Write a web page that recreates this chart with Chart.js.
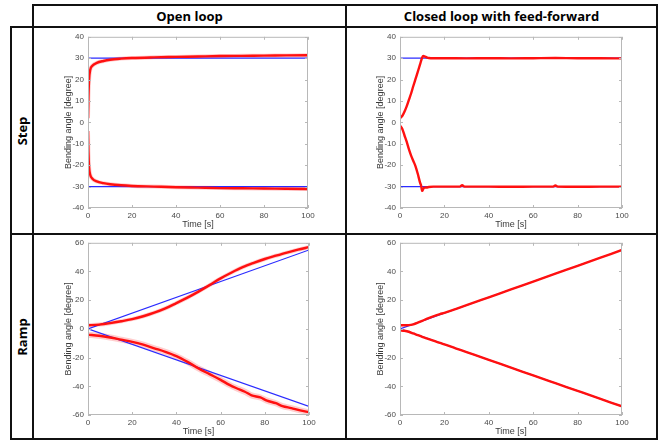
<!DOCTYPE html>
<html>
<head>
<meta charset="utf-8">
<script src="https://cdn.jsdelivr.net/npm/chart.js@4.4.1/dist/chart.umd.min.js"></script>
<style>
  body { margin: 0; background: #fff; }
  #page { position: relative; width: 662px; height: 440px; overflow: hidden; }
  .ln { position: absolute; background: #111; }
  .hd { position: absolute; font-family: "Open Sans", sans-serif; font-weight: bold; font-size: 13px; color: #000;
        display: flex; align-items: center; justify-content: center; }
  .rot { transform: rotate(-90deg); white-space: nowrap; }
  canvas { position: absolute; }
</style>
</head>
<body>
<div id="page">
  <!-- table lines -->
  <div class="ln" style="left:33px; top:4px; width:625px; height:2px;"></div>
  <div class="ln" style="left:10px; top:26px; width:648px; height:2px;"></div>
  <div class="ln" style="left:10px; top:233px; width:648px; height:2px;"></div>
  <div class="ln" style="left:10px; top:438px; width:648px; height:2px;"></div>
  <div class="ln" style="left:10px; top:26px; width:2px; height:414px;"></div>
  <div class="ln" style="left:32px; top:4px; width:2px; height:436px;"></div>
  <div class="ln" style="left:345px; top:4px; width:2px; height:436px;"></div>
  <div class="ln" style="left:656px; top:4px; width:2px; height:436px;"></div>

  <div class="hd" style="left:34px; top:6px; width:311px; height:20px;">Open loop</div>
  <div class="hd" style="left:347px; top:6px; width:309px; height:20px;">Closed loop with feed-forward</div>
  <div class="hd" style="left:12px; top:28px; width:20px; height:205px;"><span class="rot">Step</span></div>
  <div class="hd" style="left:12px; top:235px; width:20px; height:203px;"><span class="rot">Ramp</span></div>

  <canvas id="stepOpen" width="298" height="205" style="left:40px; top:28px;"></canvas>
  <canvas id="stepClosed" width="300" height="205" style="left:352px; top:28px;"></canvas>
  <canvas id="rampOpen" width="299" height="206" style="left:40px; top:234px;"></canvas>
  <canvas id="rampClosed" width="300" height="206" style="left:352px; top:234px;"></canvas>
</div>

<script>
// reference (blue)
const refTime = [0, 100];
const stepRefUp = [30, 30];
const stepRefDown = [-30, -30];
const rampRefUp = [0, 55];
const rampRefDown = [0, -54];

// open loop, step
const stepOpenTime = [0, 0.2, 0.5, 1, 2, 4, 7, 10, 15, 20, 30, 40, 50, 60, 70, 80, 90, 100];
const stepOpenUp = [2, 12, 20, 24.5, 26.5, 27.8, 28.7, 29.3, 29.8, 30.1, 30.4, 30.6, 30.8, 31, 31.1, 31.2, 31.3, 31.4];
const stepOpenDown = [-4, -14, -21, -24.5, -26.3, -27.6, -28.4, -28.9, -29.4, -29.7, -30, -30.3, -30.5, -30.7, -30.8, -30.9, -31, -31.1];

// closed loop, step
const stepClosedTimeUp = [0, 1, 2, 3, 4, 5, 6, 7, 8, 9, 10, 10.5, 11, 12, 13, 15, 20, 30, 40, 50, 60, 70, 80, 90, 100];
const stepClosedUp = [2, 3, 5, 7.5, 10.5, 13.5, 17, 20.3, 23.6, 27, 30.3, 31, 30.9, 30.4, 30.1, 30, 30, 29.9, 30, 29.9, 30, 30.1, 30, 30, 29.9];
const stepClosedTimeDown = [0, 1, 2, 3, 4, 5, 6, 7, 8, 9, 9.5, 10, 10.5, 11, 12, 13, 15, 20, 27, 28, 29, 40, 50, 60, 69, 70, 71, 80, 90, 100];
const stepClosedDown = [-1.5, -3, -6, -9, -12.5, -15.5, -18, -20.5, -24, -28, -29.5, -32, -31, -30.5, -30.4, -30.2, -30, -30, -30, -29.3, -30, -30, -30.1, -30, -30, -29.5, -30, -30.1, -30, -30];

// open loop, ramp
const rampOpenTimeUp = [0, 5, 10, 15, 20, 25, 30, 35, 40, 45, 50, 55, 60, 65, 70, 75, 80, 85, 90, 95, 100];
const rampOpenUp = [2.5, 3, 4, 5.3, 6.8, 8.8, 11.3, 14.3, 18, 21.8, 26, 30.5, 35.2, 39.3, 43, 46, 48.7, 51, 53.2, 55.2, 57];
const rampOpenTimeDown = [0, 5, 10, 15, 20, 25, 30, 35, 40, 45, 50, 55, 60, 64, 67, 71, 74, 78, 81, 85, 88, 92, 96, 100];
const rampOpenDown = [-4, -4.8, -6, -7.5, -9, -11, -13.5, -16, -19, -23, -27.5, -31.5, -35.5, -39, -41.2, -43.8, -46.3, -47.8, -50, -51.8, -53.8, -55.2, -56.8, -58];

// closed loop, ramp
const rampClosedTime = [0, 2, 4, 6, 8, 10, 12, 15, 18, 20, 25, 30, 40, 50, 60, 70, 80, 90, 100];
const rampClosedUp = [2.5, 2.5, 2.6, 3.2, 4.3, 5.6, 7, 8.8, 10.3, 11.2, 13.8, 16.5, 22, 27.5, 33, 38.5, 44, 49.5, 55];
const rampClosedDown = [-1, -1.3, -2, -3.2, -4.3, -5.5, -6.6, -8.2, -9.8, -10.8, -13.5, -16.2, -21.6, -27, -32.4, -37.8, -43.2, -48.6, -54];

const xTicks = [0, 20, 40, 60, 80, 100];

function pts(t, v) {
    return t.map((x, i) => ({ x: x, y: v[i] }));
}

// lower order = drawn on top
function blue(t, v) {
    return { data: pts(t, v), order: 2, borderColor: '#2b2bff', borderWidth: 1.2, pointRadius: 0, tension: 0 };
}
function red(t, v) {
    return { data: pts(t, v), order: 1, borderColor: '#ff1010', borderWidth: 2.4, pointRadius: 0, cubicInterpolationMode: 'monotone' };
}
function band(t, v, w) {
    return { data: pts(t, v), order: 3, borderColor: 'rgba(255,60,60,0.25)', borderWidth: w, pointRadius: 0, cubicInterpolationMode: 'monotone' };
}

// matlab style box with inward ticks
const boxTicks = {
    id: 'boxTicks',
    afterDraw(chart) {
        const { ctx, chartArea: a, scales } = chart;
        ctx.save();
        ctx.strokeStyle = '#b8b8b8';
        ctx.lineWidth = 1;
        ctx.strokeRect(a.left + 0.5, a.top + 0.5, a.right - a.left - 1, a.bottom - a.top - 1);
        ctx.beginPath();
        scales.x.ticks.forEach(tk => {
            const px = Math.round(scales.x.getPixelForValue(tk.value)) + 0.5;
            ctx.moveTo(px, a.bottom); ctx.lineTo(px, a.bottom - 3);
            ctx.moveTo(px, a.top); ctx.lineTo(px, a.top + 3);
        });
        scales.y.ticks.forEach(tk => {
            const py = Math.round(scales.y.getPixelForValue(tk.value)) + 0.5;
            ctx.moveTo(a.left, py); ctx.lineTo(a.left + 3, py);
            ctx.moveTo(a.right, py); ctx.lineTo(a.right - 3, py);
        });
        ctx.stroke();
        ctx.restore();
    }
};

function makeChart(id, datasets, yMin, yMax, yStep) {
    new Chart(document.getElementById(id), {
        type: 'line',
        data: { datasets: datasets },
        options: {
            responsive: false,
            animation: false,
            layout: { padding: { top: 7, right: 30, left: 0, bottom: 0 } },
            plugins: { legend: { display: false }, tooltip: { enabled: false } },
            scales: {
                x: {
                    type: 'linear', min: 0, max: 100,
                    afterBuildTicks: s => { s.ticks = xTicks.map(v => ({ value: v })); },
                    afterFit: s => { s.height = 25; },
                    grid: { display: false, drawTicks: false, tickLength: 0 },
                    border: { display: false },
                    ticks: { padding: 3, color: '#4a4a4a', font: { family: 'Liberation Sans', size: 8 }, maxRotation: 0 },
                    title: { display: true, text: 'Time [s]', color: '#3a3a3a', padding: { top: 0, bottom: 3 },
                             font: { family: 'Liberation Sans', size: 9 } },
                },
                y: {
                    min: yMin, max: yMax,
                    afterFit: s => { s.width = 48; },
                    grid: { display: false, drawTicks: false, tickLength: 0 },
                    border: { display: false },
                    ticks: { stepSize: yStep, padding: 4, color: '#4a4a4a', font: { family: 'Liberation Sans', size: 8 } },
                    title: { display: true, text: 'Bending angle [degree]', color: '#3a3a3a', padding: { top: 23, bottom: 0 },
                             font: { family: 'Liberation Sans', size: 9 } },
                },
            },
        },
        plugins: [boxTicks],
    });
}

makeChart('stepOpen', [
    blue(refTime, stepRefUp),
    blue(refTime, stepRefDown),
    band(stepOpenTime, stepOpenUp, 4),
    band(stepOpenTime, stepOpenDown, 4),
    red(stepOpenTime, stepOpenUp),
    red(stepOpenTime, stepOpenDown),
], -40, 40, 10);

makeChart('stepClosed', [
    blue(refTime, stepRefUp),
    blue(refTime, stepRefDown),
    red(stepClosedTimeUp, stepClosedUp),
    red(stepClosedTimeDown, stepClosedDown),
], -40, 40, 10);

makeChart('rampOpen', [
    band(rampOpenTimeUp, rampOpenUp, 4),
    band(rampOpenTimeDown, rampOpenDown, 6),
    blue(refTime, rampRefUp),
    blue(refTime, rampRefDown),
    red(rampOpenTimeUp, rampOpenUp),
    red(rampOpenTimeDown, rampOpenDown),
], -60, 60, 20);

makeChart('rampClosed', [
    blue(refTime, rampRefUp),
    blue(refTime, rampRefDown),
    red(rampClosedTime, rampClosedUp),
    red(rampClosedTime, rampClosedDown),
], -60, 60, 20);
</script>
</body>
</html>
